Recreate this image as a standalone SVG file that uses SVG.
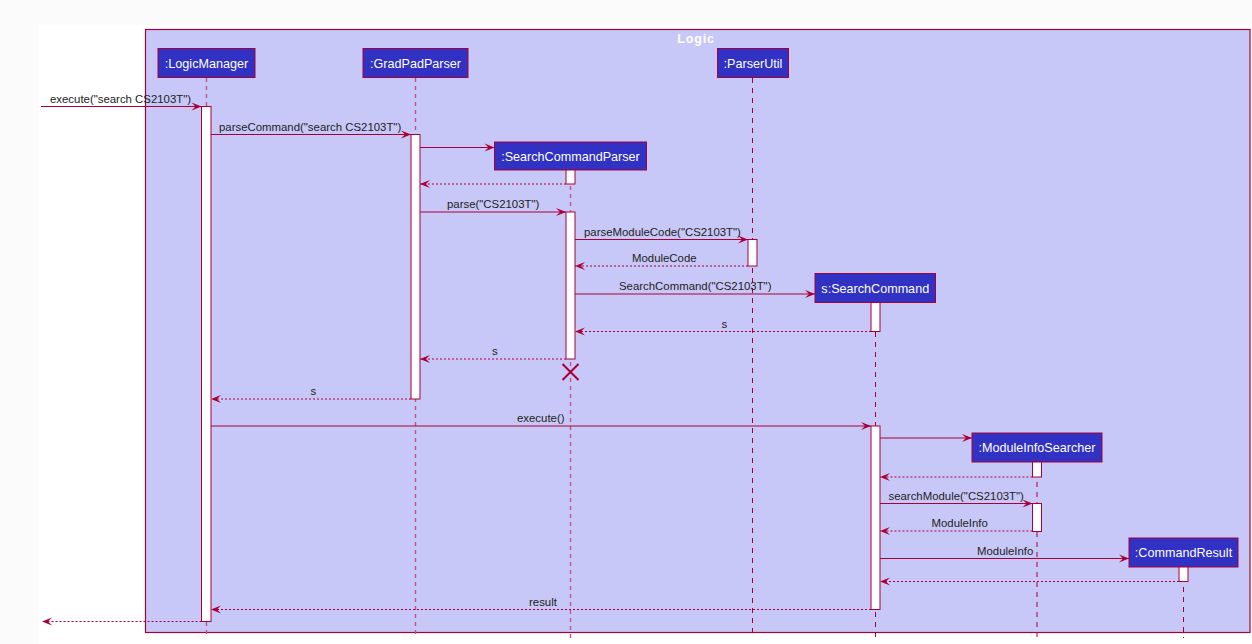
<svg xmlns="http://www.w3.org/2000/svg" width="1252" height="644" viewBox="0 0 1252 644">
<style>
.bg{fill:#fbfbfb}
.frame{fill:#C8C8F8;stroke:#A80036;stroke-width:1.2}
.title{font-family:"Liberation Sans",Arial,sans-serif;font-size:12.5px;font-weight:bold;fill:#ffffff;text-anchor:middle;letter-spacing:0.8px}
.pbox{fill:#3131C3;stroke:#A80036;stroke-width:1}
.ptext{font-family:"Liberation Sans",Arial,sans-serif;font-size:12.6px;fill:#ffffff;text-anchor:middle}
.life{stroke:#A80036;stroke-width:1;stroke-dasharray:5,5;fill:none}
.life2{stroke:#C4508A;stroke-width:1.4;stroke-dasharray:4,4;fill:none}
.act{fill:#ffffff;stroke:#A80036;stroke-width:1}
.msg{stroke:#A80036;stroke-width:1;fill:none;marker-end:url(#ah)}
.ret{stroke:#A80036;stroke-width:1;stroke-dasharray:2,2;fill:none;marker-end:url(#ah)}
.lbl{font-family:"Liberation Sans",Arial,sans-serif;font-size:11.4px;fill:#222222}
.x{stroke:#A80036;stroke-width:2;fill:none}
</style>
<defs>
<marker id="ah" markerUnits="userSpaceOnUse" markerWidth="10" markerHeight="8" refX="10" refY="4" orient="auto" overflow="visible">
<path d="M0,0 L10,4 L0,8 L4,4 Z" fill="#A80036"/>
</marker>
</defs>
<rect class="bg" x="0" y="0" width="1252" height="644"/>
<rect x="39" y="25" width="1213" height="619" fill="#ffffff"/>
<g id="frame-logic">
<rect class="frame" x="145.5" y="29.5" width="1104.5" height="603"/>
<text class="title" x="696" y="42.5">Logic</text>
</g>
<g id="lifelines">
<line class="life2" x1="206.5" y1="78" x2="206.5" y2="638"/>
<line class="life2" x1="415.5" y1="78" x2="415.5" y2="638"/>
<line class="life" x1="752.5" y1="78" x2="752.5" y2="638"/>
<line class="life2" x1="570.5" y1="170" x2="570.5" y2="638"/>
<line class="life" x1="875.5" y1="302" x2="875.5" y2="638"/>
<line class="life" x1="1037" y1="462" x2="1037" y2="638"/>
<line class="life" x1="1183.5" y1="567" x2="1183.5" y2="638"/>
</g>
<g id="LogicManager">
<rect class="pbox" x="158" y="48.5" width="97" height="29"/>
<text class="ptext" x="206.5" y="67.5">:LogicManager</text>
<rect class="act" x="201.5" y="106.5" width="9.5" height="515"/>
</g>
<g id="GradPadParser">
<rect class="pbox" x="363" y="48.5" width="105" height="29"/>
<text class="ptext" x="415.5" y="67.5">:GradPadParser</text>
<rect class="act" x="411" y="134.5" width="9" height="264.5"/>
</g>
<g id="ParserUtil">
<rect class="pbox" x="717.5" y="48.5" width="71" height="29"/>
<text class="ptext" x="753" y="67.5">:ParserUtil</text>
<rect class="act" x="748" y="239.5" width="9" height="26.5"/>
</g>
<g id="SearchCommandParser">
<rect class="pbox" x="494.5" y="142" width="152" height="28"/>
<text class="ptext" x="570.5" y="160.5">:SearchCommandParser</text>
<rect class="act" x="566" y="170" width="9" height="14"/>
<rect class="act" x="566" y="212" width="9" height="147"/>
<path class="x" d="M562.5,364 L578.5,380 M578.5,364 L562.5,380"/>
</g>
<g id="SearchCommand">
<rect class="pbox" x="815" y="273.5" width="120.5" height="29"/>
<text class="ptext" x="875.25" y="292.5">s:SearchCommand</text>
<rect class="act" x="871" y="302.5" width="9" height="29"/>
<rect class="act" x="871" y="426" width="9" height="183.5"/>
</g>
<g id="ModuleInfoSearcher">
<rect class="pbox" x="972" y="433" width="130" height="29"/>
<text class="ptext" x="1037" y="452">:ModuleInfoSearcher</text>
<rect class="act" x="1032.5" y="462" width="9" height="15"/>
<rect class="act" x="1032.5" y="503.5" width="9" height="28"/>
</g>
<g id="CommandResult">
<rect class="pbox" x="1129" y="538" width="109" height="29"/>
<text class="ptext" x="1183.5" y="557">:CommandResult</text>
<rect class="act" x="1179" y="567" width="9" height="14.5"/>
</g>
<g id="connectors">
<path class="msg" d="M41,106.5 L201.5,106.5"/>
<text class="lbl" x="50" y="102.5">execute("search CS2103T")</text>
<path class="msg" d="M211,134.5 L411,134.5"/>
<text class="lbl" x="219" y="130.5">parseCommand("search CS2103T")</text>
<path class="msg" d="M420,147.5 L494.5,147.5"/>
<path class="ret" d="M566,184 L420,184"/>
<path class="msg" d="M420,212 L566,212"/>
<text class="lbl" x="447" y="208">parse("CS2103T")</text>
<path class="msg" d="M575,239.5 L748,239.5"/>
<text class="lbl" x="584" y="235.5">parseModuleCode("CS2103T")</text>
<path class="ret" d="M748,266 L575,266"/>
<text class="lbl" x="632" y="262">ModuleCode</text>
<path class="msg" d="M575,294 L815,294"/>
<text class="lbl" x="619" y="290">SearchCommand("CS2103T")</text>
<path class="ret" d="M871,331.5 L575,331.5"/>
<text class="lbl" x="721.5" y="327.5">s</text>
<path class="ret" d="M566,359 L420,359"/>
<text class="lbl" x="492" y="355">s</text>
<path class="ret" d="M411,399 L211,399"/>
<text class="lbl" x="310.5" y="395">s</text>
<path class="msg" d="M211,426 L871,426"/>
<text class="lbl" x="517" y="422">execute()</text>
<path class="msg" d="M880,438 L972,438"/>
<path class="ret" d="M1032.5,477 L880,477"/>
<path class="msg" d="M880,503.5 L1032.5,503.5"/>
<text class="lbl" x="888.5" y="499.5">searchModule("CS2103T")</text>
<path class="ret" d="M1032.5,531 L880,531"/>
<text class="lbl" x="931.5" y="527">ModuleInfo</text>
<path class="msg" d="M880,558.5 L1129,558.5"/>
<text class="lbl" x="977" y="554.5">ModuleInfo</text>
<path class="ret" d="M1179,581.5 L880,581.5"/>
<path class="ret" d="M871,609.5 L211,609.5"/>
<text class="lbl" x="529" y="605.5">result</text>
<path class="ret" d="M201.5,621.5 L42,621.5"/>
</g>
</svg>
